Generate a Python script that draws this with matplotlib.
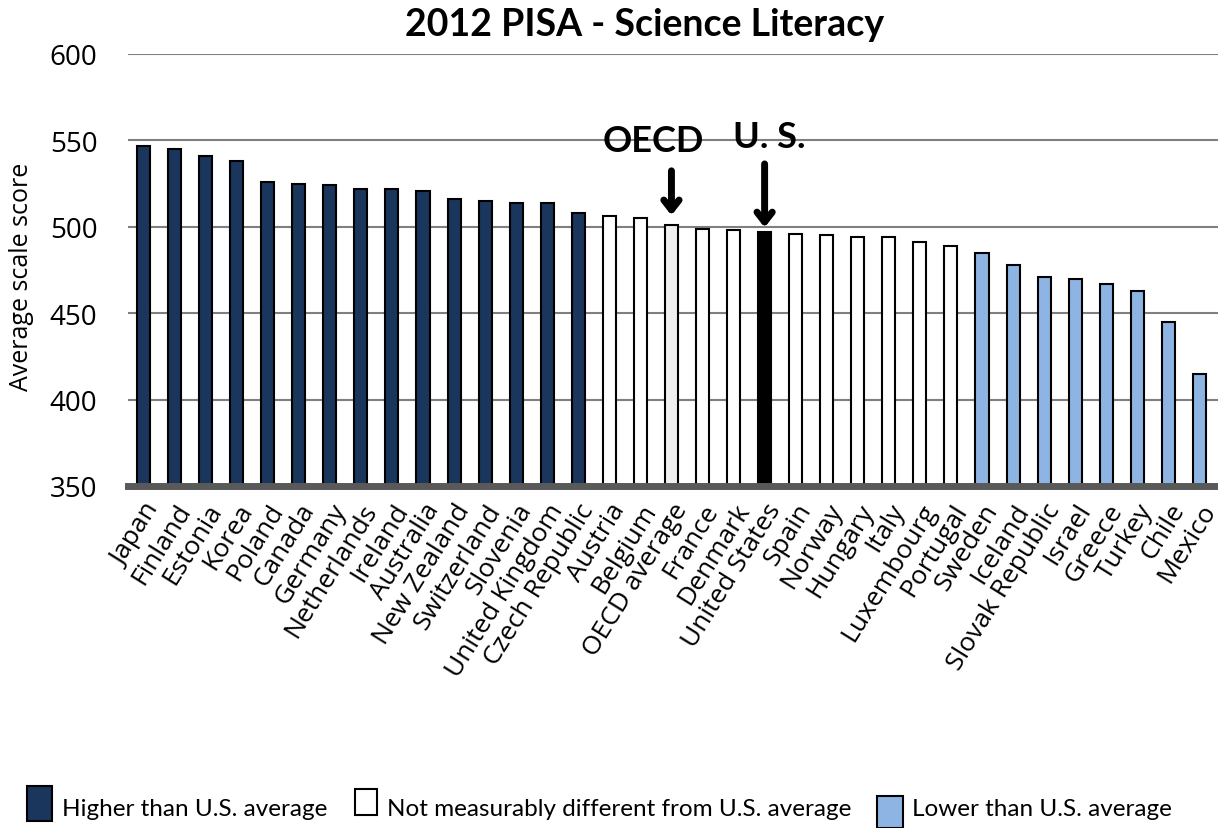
import matplotlib
matplotlib.use("Agg")
import matplotlib.pyplot as plt
from matplotlib.patches import Rectangle

countries = ["Japan", "Finland", "Estonia", "Korea", "Poland", "Canada", "Germany",
             "Netherlands", "Ireland", "Australia", "New Zealand", "Switzerland",
             "Slovenia", "United Kingdom", "Czech Republic", "Austria", "Belgium",
             "OECD average", "France", "Denmark", "United States", "Spain", "Norway",
             "Hungary", "Italy", "Luxembourg", "Portugal", "Sweden", "Iceland",
             "Slovak Republic", "Israel", "Greece", "Turkey", "Chile", "Mexico"]
scores = [547, 545, 541, 538, 526, 525, 524, 522, 522, 521, 516, 515, 514, 514, 508,
          506, 505, 501, 499, 498, 497, 496, 495, 494, 494, 491, 489, 485, 478, 471,
          470, 467, 463, 445, 415]
groups = ["higher"] * 15 + ["same"] * 2 + ["oecd"] + ["same"] * 2 + ["us"] + ["same"] * 6 + ["lower"] * 8
legend_labels = ["Higher than U.S. average", "Not measurably different from U.S. average",
                 "Lower than U.S. average"]
yticks = [350, 400, 450, 500, 550, 600]

colors = {"higher": "#1B365D", "same": "#FFFFFF", "oecd": "#F0F0F0",
          "us": "#000000", "lower": "#8DB4E2"}

plt.rcParams['font.family'] = ['Open Sans', 'DejaVu Sans']
LATO = ['Lato', 'DejaVu Sans']

W, H = 1218, 829
fig = plt.figure(figsize=(W / 100, H / 100), dpi=100)
ax = fig.add_axes([128 / W, 1 - 487 / H, 1 - 128 / W, (487 - 55) / H])

x = list(range(len(countries)))
ax.bar(x, [s - 350 for s in scores], bottom=350, width=0.42,
       color=[colors[g] for g in groups], edgecolor="black", linewidth=1.5, zorder=3)
ax.set_xlim(-0.5, len(countries) - 0.5 + 0.1)
ax.set_ylim(350, 600)
ax.set_yticks(yticks)
ax.tick_params(axis='y', labelsize=20, length=0, pad=22)
ax.tick_params(axis='x', length=0, pad=9)
ax.set_xticks(x)
ax.set_xticklabels(countries, rotation=58, ha='right', rotation_mode='anchor', fontsize=19)
ax.yaxis.grid(True, color="#7F7F7F", linewidth=1.5, zorder=0)
for s in ["top", "right", "left"]:
    ax.spines[s].set_visible(False)
ax.spines["bottom"].set_color("#595959")
ax.spines["bottom"].set_linewidth(5)
ax.spines["bottom"].set_zorder(4)

fig.text(22 / W, 1 - 277 / H, "Average scale score", rotation=90, fontsize=18,
         ha='center', va='center')
fig.text(645 / W, 1 - 25 / H, "2012 PISA - Science Literacy", fontsize=27,
         fontweight='bold', ha='center', va='center', family=LATO)

# annotations
ax.text(17 - 0.6, 550, "OECD", fontsize=26, fontweight='bold', ha='center', va='center',
        zorder=5, family=LATO)
ax.text(20.15, 552.5, "U. S.", fontsize=26, fontweight='bold', ha='center', va='center',
        zorder=5, family=LATO)
ax.annotate("", xy=(17, 505), xytext=(17, 534),
            arrowprops=dict(arrowstyle="->,head_length=0.7,head_width=0.55", lw=5, color="black"))
ax.annotate("", xy=(20, 498), xytext=(20, 538),
            arrowprops=dict(arrowstyle="->,head_length=0.7,head_width=0.55", lw=5, color="black"))

# legend
boxes = [(27, 787, 25, 35, colors["higher"]), (355, 790, 22, 26, "#FFFFFF"),
         (877, 797, 26, 32, colors["lower"])]
texts_x = [62, 387, 912]
for (bx, by, bw, bh, c), tx, lab in zip(boxes, texts_x, legend_labels):
    fig.patches.append(Rectangle((bx / W, 1 - (by + bh) / H), bw / W, bh / H,
                                 transform=fig.transFigure, facecolor=c,
                                 edgecolor="black", linewidth=1.5))
    fig.text(tx / W, 1 - 810 / H, lab, fontsize=17.5, ha='left', va='center', family=LATO)

fig.savefig("out.png", dpi=100)
